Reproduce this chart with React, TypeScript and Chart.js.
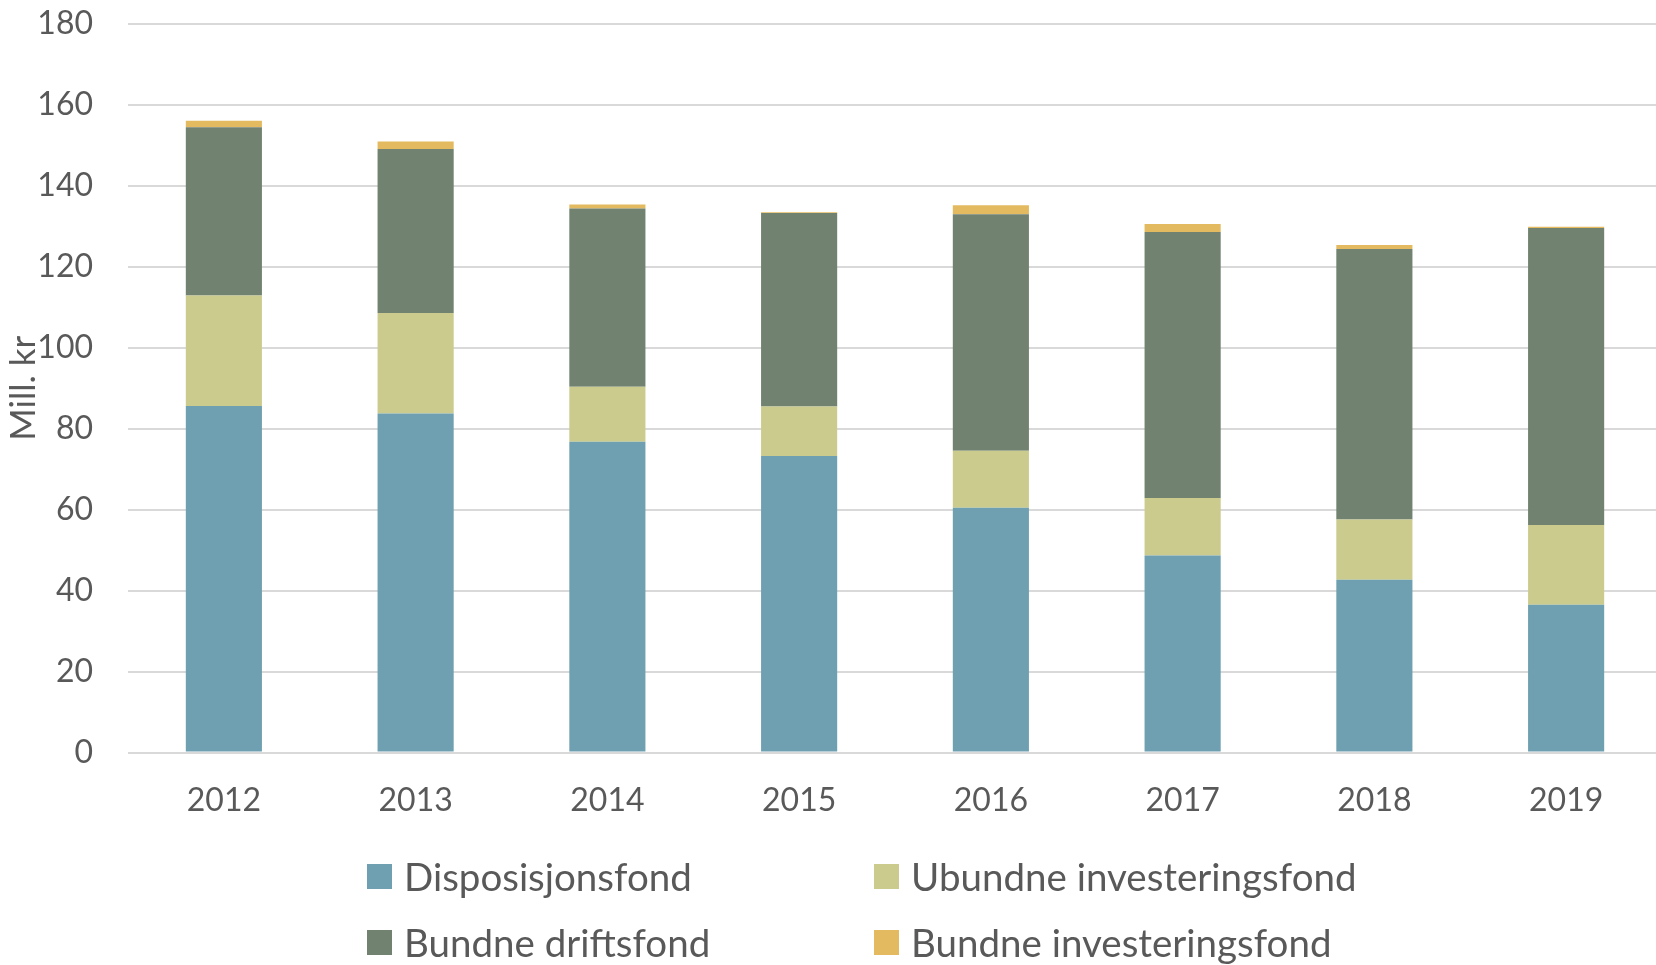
import React, { useEffect, useRef } from "react";
import { Chart, registerables } from "chart.js";

Chart.register(...registerables);

const years = ["2012", "2013", "2014", "2015", "2016", "2017", "2018", "2019"];
const disposisjonsfond = [85.6, 83.8, 76.8, 73.3, 60.5, 48.7, 42.7, 36.5];
const ubundneInvesteringsfond = [27.3, 24.8, 13.6, 12.2, 14.1, 14.2, 14.9, 19.7];
const bundneDriftsfond = [41.6, 40.5, 44.0, 47.8, 58.4, 65.7, 66.8, 73.4];
const bundneInvesteringsfond = [1.6, 1.9, 1.0, 0.2, 2.2, 2.0, 1.0, 0.3];

const seriesLabels = [
  "Disposisjonsfond",
  "Ubundne investeringsfond",
  "Bundne driftsfond",
  "Bundne investeringsfond",
];
const seriesValues = [disposisjonsfond, ubundneInvesteringsfond, bundneDriftsfond, bundneInvesteringsfond];
const seriesColors = ["#6FA0B2", "#CBCB8E", "#728270", "#E3BA5F"];

const yMin = 0;
const yMax = 180;
const yStep = 20;
const yTitle = "Mill. kr";

const FONT = "Lato, 'Open Sans', sans-serif";
const TEXT = "#595959";

export default function App() {
  const ref = useRef<HTMLCanvasElement | null>(null);

  useEffect(() => {
    document.body.style.margin = "0";
    const canvas = ref.current;
    if (!canvas) return;
    const chart = new Chart(canvas, {
      type: "bar",
      data: {
        labels: years,
        datasets: seriesLabels.map((label, i) => ({
          label,
          data: seriesValues[i],
          backgroundColor: seriesColors[i],
          borderWidth: 0,
          categoryPercentage: 1,
          barPercentage: 0.397,
        })),
      },
      options: {
        animation: false,
        responsive: false,
        maintainAspectRatio: false,
        layout: { padding: { left: 0, right: 0, top: 24, bottom: 116 } },
        plugins: {
          legend: { display: false },
          tooltip: { enabled: false },
        },
        scales: {
          x: {
            stacked: true,
            grid: { display: false, drawTicks: false },
            border: { display: false },
            ticks: { color: TEXT, font: { family: FONT, size: 32 }, padding: 29 },
          },
          y: {
            stacked: true,
            min: yMin,
            max: yMax,
            grid: { color: "#D9D9D9", lineWidth: 2, drawTicks: false },
            border: { display: false },
            ticks: { stepSize: yStep, color: TEXT, font: { family: FONT, size: 32 }, padding: 35 },
            title: {
              display: true,
              text: yTitle,
              color: TEXT,
              font: { family: FONT, size: 35 },
              padding: { top: 3, bottom: 0 },
            },
            afterFit: (scale: any) => {
              scale.width = 128;
              scale.paddingTop = 0;
              scale.paddingBottom = 0;
            },
          },
        },
      },
    });
    return () => chart.destroy();
  }, []);

  return (
    <div style={{ position: "relative", width: 1656, height: 965, overflow: "hidden", background: "#fff" }}>
      <canvas ref={ref} width={1662} height={965} style={{ display: "block", width: 1662, height: 965 }} />
      <div
        style={{
          position: "absolute",
          left: 367,
          top: 843,
          display: "grid",
          gridTemplateColumns: "507px auto",
          rowGap: 0,
          fontFamily: FONT,
          fontSize: 38.5,
          color: TEXT,
        }}
      >
        {seriesLabels.map((label, i) => (
          <div key={label} style={{ display: "flex", alignItems: "center", height: 66, whiteSpace: "nowrap" }}>
            <span style={{ width: 25, height: 25, background: seriesColors[i], marginRight: 12, flex: "none" }} />
            <span>{label}</span>
          </div>
        ))}
      </div>
    </div>
  );
}
